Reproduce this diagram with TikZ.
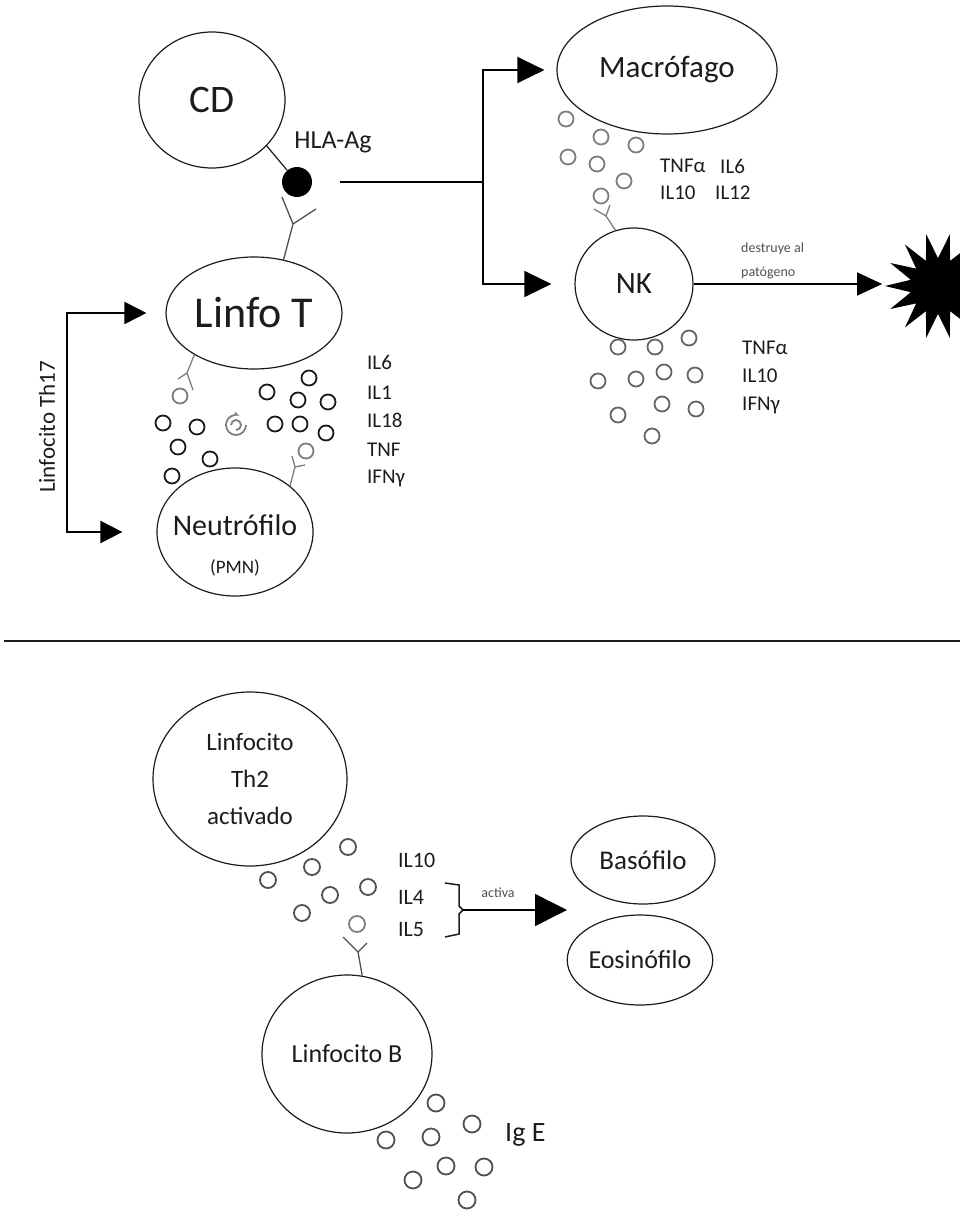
\documentclass[tikz,border=0pt]{standalone}
\usepackage{fontspec}
\setmainfont{Carlito}
\usepackage{tikz}
\usetikzlibrary{shapes.geometric}
\usetikzlibrary{arrows.meta}

\definecolor{ink}{HTML}{1C1C1C}
\definecolor{soft}{HTML}{7E7E7E}
\definecolor{mid}{HTML}{505050}

\tikzset{
  cell/.style={shape=ellipse, draw=ink, line width=1.2pt, inner sep=0pt, text=ink},
  bub/.style={shape=circle, draw=ink, line width=1.8pt, minimum size=15pt, inner sep=0pt},
  gbub/.style={bub, draw=soft},
  recep/.style={draw=mid, line width=1.3pt},
  grecep/.style={draw=soft, line width=1.3pt},
  lbl/.style={anchor=west, text=ink, inner sep=0pt, font=\fontsize{21}{23}\selectfont},
  small/.style={text=mid, inner sep=0pt, font=\fontsize{14}{24}\selectfont},
  bigarrow/.style={draw=black, line width=1.5pt, -{Triangle[length=27pt,width=26pt]}},
  midarrow/.style={draw=black, line width=1.5pt, -{Triangle[length=22pt,width=22pt]}},
}

\begin{document}
\begin{tikzpicture}[x=1pt,y=-1pt]
\useasboundingbox (0,0) rectangle (960,1212);
\clip (0,0) rectangle (960,1212);

% upper half: cells
\node[cell, minimum width=146pt, minimum height=136pt, font=\fontsize{39}{44}\selectfont] (CD) at (212,100) {CD};
\node[shape=circle, fill=black, minimum size=30pt, inner sep=0pt] (hla) at (297,182) {};
\node[text=ink, font=\fontsize{26}{30}\selectfont] (hlalbl) at (333,142) {HLA-Ag};
\node[cell, minimum width=176pt, minimum height=112pt, font=\fontsize{44}{50}\selectfont] (LT) at (254,313) {Linfo T};
\node[cell, minimum width=156pt, minimum height=128pt] (neu) at (235,532) {};
\node[text=ink, align=center, inner sep=0pt, font=\fontsize{30}{38}\selectfont] (neutxt) at (235,545) {Neutrófilo\\{\fontsize{19}{20}\selectfont(PMN)}};
\node[cell, minimum width=220pt, minimum height=128pt, font=\fontsize{31}{36}\selectfont] (mac) at (667,70) {Macrófago};
\node[cell, minimum width=118pt, minimum height=112pt, font=\fontsize{31}{36}\selectfont] (NK) at (634,284) {NK};
\node[star, star points=14, star point ratio=1.9, shape border rotate=90, fill=black, minimum size=106pt, inner sep=0pt] (pat) at (938,286) {};

% CD - antigen - Linfo T
\draw[draw=ink, line width=1.2pt] (CD.-40) -- (hla);
\coordinate (y1) at (293,224);
\draw[recep] (LT.61) -- (y1) -- ++(-11,-27) (y1) -- ++(23,-15);

% activation branch
\coordinate (split) at (483,182);
\draw[draw=black, line width=1.5pt, shorten <=28pt] (hla.east) -- (split);
\draw[bigarrow, shorten >=12pt] (split) |- (mac.west);
\draw[bigarrow, shorten >=23pt] (split) |- (NK.west);
\draw[bigarrow, -{Triangle[length=25pt,width=23pt]}, shorten >=2pt] (NK.east) -- (NK.east -| pat.west);
\node[small, anchor=west, align=left] (destr) at (741,261) {destruye al\\patógeno};

% Th17
\coordinate (th17) at (67,420);
\draw[midarrow, line width=2pt, shorten >=19pt] (th17) |- (LT.west);
\draw[midarrow, line width=2pt, shorten >=34pt] (th17) |- (neu.west);
\node[rotate=90, text=ink, font=\fontsize{23}{26}\selectfont] (th17lbl) at (47,427) {Linfocito Th17};

% cytokines Linfo T / PMN
\foreach \x/\y [count=\i] in {309/378, 267/392, 298/400, 328/402, 163/423, 197/427,
  275/424, 300/424, 326/433, 178/447, 210/459, 172/476}
  \node[bub] (tc\i) at (\x,\y) {};
\node[gbub] (tg1) at (180,396) {};
\node[gbub] (tg2) at (306,451) {};
\coordinate (y2) at (187,373);
\draw[grecep] (LT.215) -- (y2) -- ++(-9,6) (y2) -- ++(6,17);
\coordinate (y3) at (295,467);
\draw[grecep] (neu.40) -- (y3) -- ++(-3,-11) (y3) -- ++(10,-2);
\coordinate (spiral) at (236,425);
\draw[grecep, line width=1.8pt, -{Stealth[length=6pt]}] (spiral) ++(0:10) arc (0:290:10);
\draw[grecep, line width=1.8pt] (spiral) ++(180:5) arc (180:450:5);
\node[lbl] (il6a) at (367,362) {IL6};
\node[lbl] (il1a) at (367,393) {IL1};
\node[lbl] (il18a) at (367,420) {IL18};
\node[lbl] (tnfa) at (367,450) {TNF};
\node[lbl] (ifna) at (367,478) {IFNγ};

% cytokines macrofago
\foreach \x/\y [count=\i] in {566/119, 601/137, 636/145, 568/157, 597/164, 624/181}
  \node[gbub] (mc\i) at (\x,\y) {};
\node[gbub] (mg1) at (601,196) {};
\coordinate (y4) at (606,216);
\draw[grecep] (NK.109) -- (y4) -- ++(-12,-7) (y4) -- ++(4,-11);
\node[lbl] (tnfb) at (660,166) {TNFα};
\node[lbl] (il6b) at (720,166) {IL6};
\node[lbl] (il10b) at (660,193) {IL10};
\node[lbl] (il12b) at (715,193) {IL12};

% cytokines NK
\foreach \x/\y [count=\i] in {618/347, 655/347, 689/338, 598/381, 636/379, 664/372,
  695/375, 618/415, 662/404, 696/409, 652/436}
  \node[gbub, draw=soft!80!black] (nc\i) at (\x,\y) {};
\node[lbl] (tnfc) at (742,348) {TNFα};
\node[lbl] (il10c) at (742,376) {IL10};
\node[lbl] (ifnc) at (742,405) {IFNγ};

% separator
\coordinate (sepL) at (4,641);
\coordinate (sepR) at (960,641);
\draw[draw=ink, line width=1.5pt] (sepL) -- (sepR);

% lower half
\node[cell, minimum width=194pt, minimum height=174pt, align=center, font=\fontsize{25}{37}\selectfont] (th2) at (250,779) {Linfocito\\Th2\\activado};
\node[cell, minimum width=170pt, minimum height=158pt, font=\fontsize{26}{30}\selectfont] (LB) at (347,1054) {Linfocito B};
\node[cell, minimum width=144pt, minimum height=88pt, font=\fontsize{27}{30}\selectfont] (baso) at (643,860) {Basófilo};
\node[cell, minimum width=144pt, minimum height=90pt, font=\fontsize{26}{30}\selectfont] (eos) at (640,960) {Eosinófilo};

\foreach \x/\y [count=\i] in {268/880, 312/867, 348/847, 330/895, 368/887, 302/913}
  \node[bub, draw=mid, minimum size=16pt] (hc\i) at (\x,\y) {};
\node[gbub, minimum size=16pt] (hg1) at (357,924) {};
\coordinate (y5) at (358,952);
\draw[recep] (LB.79) -- (y5) -- ++(-15,-15) (y5) -- ++(9,-9);
\node[lbl, font=\fontsize{22}{24}\selectfont] (il10d) at (398,860) {IL10};
\node[lbl, font=\fontsize{22}{24}\selectfont] (il4d) at (398,897) {IL4};
\node[lbl, font=\fontsize{22}{24}\selectfont] (il5d) at (398,930) {IL5};
\coordinate (brk) at (463,910);
\draw[draw=ink, line width=1.5pt] (445,883) -- (459,885) -- (459,906) -- (brk) -- (459,914) -- (459,934) -- (445,937);
\coordinate (act) at (567,910);
\draw[bigarrow, -{Triangle[length=32pt,width=32pt]}] (brk) -- (act);
\node[small] (activa) at (498,893) {activa};

\foreach \x/\y [count=\i] in {436/1103, 472/1124, 386/1140, 431/1137, 446/1166,
  484/1167, 413/1180, 467/1200}
  \node[bub, draw=mid, minimum size=17pt] (ic\i) at (\x,\y) {};
\node[lbl, font=\fontsize{28}{30}\selectfont] (ige) at (505,1135) {Ig E};
\end{tikzpicture}
\end{document}
